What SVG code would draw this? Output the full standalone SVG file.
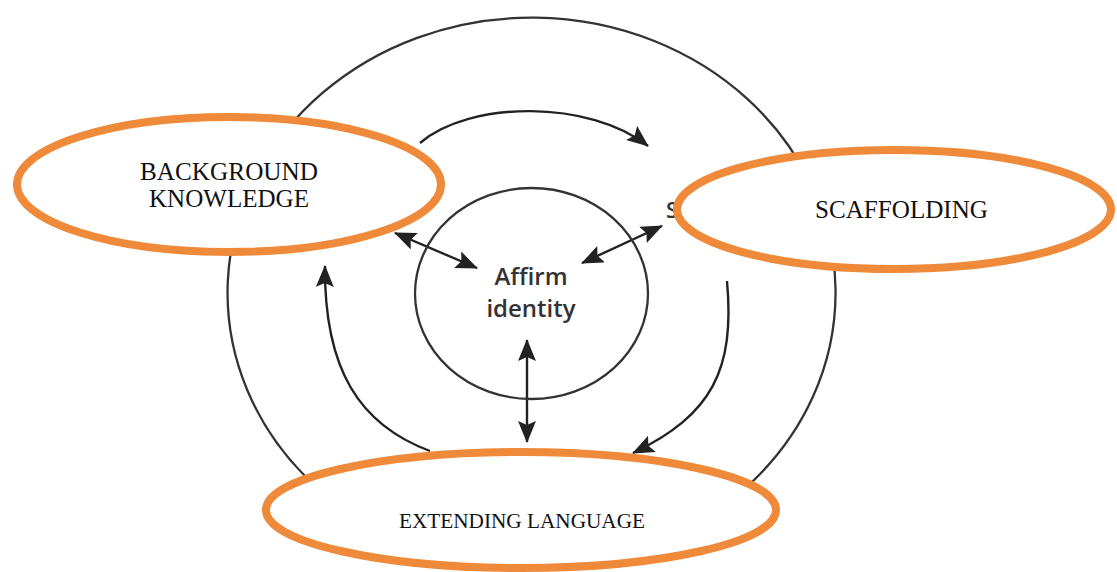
<svg xmlns="http://www.w3.org/2000/svg" width="1117" height="572" viewBox="0 0 1117 572">
  <style>
    .ring { fill: none; stroke: #333; stroke-width: 2.3; }
    .arrow { fill: none; stroke: #222; stroke-width: 2.4; }
    .orange { fill: #fff; stroke: #EF8A3A; stroke-width: 8; }
    .serif { font-family: "Liberation Serif", "Times New Roman", serif; fill: #111; text-anchor: middle; }
    .sans { font-family: "Open Sans", "DejaVu Sans", sans-serif; fill: #333; text-anchor: middle; font-weight: 600; }
  </style>
  <defs>
    <marker id="ah" viewBox="0 0 22 18" refX="21" refY="9" markerWidth="22" markerHeight="18" markerUnits="userSpaceOnUse" orient="auto-start-reverse">
      <path d="M0,0 L22,9 L0,18 L4,9 Z" fill="#222"/>
    </marker>
  </defs>
  <rect width="1117" height="572" fill="#fff"/>

  <g id="connectors">
    <path class="ring" d="M305,476 A304,275 0 1 1 752,482"/>
    <path class="arrow" d="M420,143 C470,100 590,100 648,146" marker-end="url(#ah)"/>
    <path class="arrow" d="M430,451 C360,425 324,370 325,266" marker-end="url(#ah)"/>
    <path class="arrow" d="M727,281 C735,370 712,415 633,453" marker-end="url(#ah)"/>
    <line class="arrow" x1="395" y1="233" x2="477" y2="268" marker-start="url(#ah)" marker-end="url(#ah)"/>
    <line class="arrow" x1="662" y1="226" x2="582" y2="263" marker-start="url(#ah)" marker-end="url(#ah)"/>
    <line class="arrow" x1="527" y1="340" x2="527" y2="442" marker-start="url(#ah)" marker-end="url(#ah)"/>
  </g>

  <g id="node-affirm">
    <ellipse class="ring" cx="531.5" cy="293.5" rx="116.5" ry="105.5"/>
    <text class="sans" x="531" y="285" font-size="24">Affirm</text>
    <text class="sans" x="531" y="317" font-size="24">identity</text>
  </g>

  <text class="sans" x="672" y="218" font-size="22">S</text>

  <g id="node-background">
    <ellipse class="orange" cx="229" cy="184.5" rx="212" ry="67.5"/>
    <text class="serif" x="229" y="180" font-size="25" textLength="178" lengthAdjust="spacingAndGlyphs">BACKGROUND</text>
    <text class="serif" x="229" y="207" font-size="25" textLength="160" lengthAdjust="spacingAndGlyphs">KNOWLEDGE</text>
  </g>

  <g id="node-scaffolding">
    <ellipse class="orange" cx="894" cy="209.5" rx="217" ry="59.5"/>
    <text class="serif" x="901.5" y="218" font-size="25" textLength="173" lengthAdjust="spacingAndGlyphs">SCAFFOLDING</text>
  </g>

  <g id="node-extending">
    <ellipse class="orange" cx="521" cy="510" rx="255" ry="58"/>
    <text class="serif" x="522" y="528" font-size="21" textLength="246" lengthAdjust="spacingAndGlyphs">EXTENDING LANGUAGE</text>
  </g>
</svg>
